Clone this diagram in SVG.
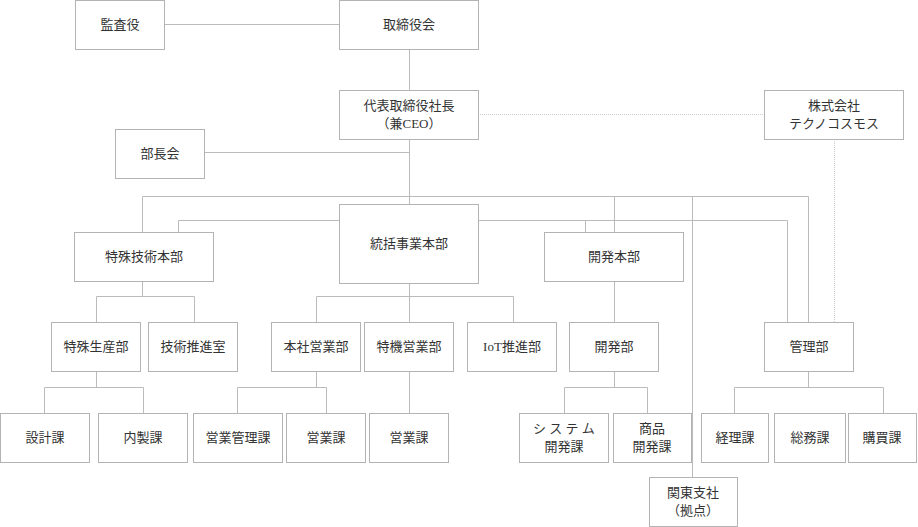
<svg xmlns="http://www.w3.org/2000/svg" width="918" height="527" viewBox="0 0 918 527">
<style>
rect{fill:#fff;stroke:#b3b3b3;stroke-width:1}
text{font-family:"Liberation Serif","Noto Sans CJK JP",serif;font-size:13px;fill:#333;text-anchor:middle}
.c path{fill:none;stroke:#bbb;stroke-width:1}
.c .d{stroke:#ccc;stroke-dasharray:1 1}
</style>
<rect width="918" height="527" style="stroke:none"/>
<g class="c">
<path d="M164.5 24.5H339.5M409.5 49V90M409.5 139V204M204 152.5H409.5"/>
<path d="M142.5 232V196.5H808.5V322M178.5 232V220.5H339M478 220.5H787.5V322M614.5 196.5V232M585.5 220.5V232M692.5 196.5V477"/>
<path class="d" d="M478 114.5H764M834.5 139V322"/>
<path d="M142.5 281V296.5M96.5 322V296.5H194.5V322M96.5 371V387.5M44.5 413V387.5H143.5V413"/>
<path d="M409.5 283V322M316.5 322V296.5H513.5V322M316.5 371V387.5M237.5 413V387.5H326.5V413M409.5 371V413"/>
<path d="M614.5 281V322M614.5 371V387.5M564.5 413V387.5H647.5V413"/>
<path d="M808.5 371V387.5M734.5 413V387.5H883.5V413"/>
</g>
<g id="kansa"><rect x="75.5" y="0.5" width="89" height="49"/><text x="120" y="29">監査役</text></g>
<g id="torishimariyaku"><rect x="339.5" y="0.5" width="139" height="49"/><text x="409" y="29">取締役会</text></g>
<g id="shacho"><rect x="339.5" y="90.5" width="139" height="49"/><text x="409" y="110">代表取締役社長</text><text x="409" y="128">（兼CEO）</text></g>
<g id="technocosmos"><rect x="764.5" y="90.5" width="139" height="49"/><text x="834" y="110">株式会社</text><text x="834" y="128">テクノコスモス</text></g>
<g id="buchokai"><rect x="115.5" y="129.5" width="89" height="49"/><text x="160" y="158">部長会</text></g>
<g id="tokushugijutsu"><rect x="74.5" y="232.5" width="139" height="49"/><text x="144" y="261">特殊技術本部</text></g>
<g id="tokatsu"><rect x="339.5" y="204.5" width="139" height="79"/><text x="409" y="248">統括事業本部</text></g>
<g id="kaihatsuhonbu"><rect x="544.5" y="232.5" width="139" height="49"/><text x="614" y="261">開発本部</text></g>
<g id="tokushuseisan"><rect x="51.5" y="322.5" width="89" height="49"/><text x="96" y="351">特殊生産部</text></g>
<g id="gijutsusuishin"><rect x="148.5" y="322.5" width="89" height="49"/><text x="193" y="351">技術推進室</text></g>
<g id="honsha"><rect x="271.5" y="322.5" width="89" height="49"/><text x="316" y="351">本社営業部</text></g>
<g id="tokki"><rect x="364.5" y="322.5" width="89" height="49"/><text x="409" y="351">特機営業部</text></g>
<g id="iot"><rect x="467.5" y="322.5" width="89" height="49"/><text x="512" y="351">IoT推進部</text></g>
<g id="kaihatsubu"><rect x="569.5" y="322.5" width="89" height="49"/><text x="614" y="351">開発部</text></g>
<g id="kanribu"><rect x="764.5" y="322.5" width="89" height="49"/><text x="809" y="351">管理部</text></g>
<g id="sekkei"><rect x="0.5" y="413.5" width="89" height="49"/><text x="45" y="442">設計課</text></g>
<g id="naisei"><rect x="98.5" y="413.5" width="89" height="49"/><text x="143" y="442">内製課</text></g>
<g id="eigyokanri"><rect x="193.5" y="413.5" width="89" height="49"/><text x="238" y="442">営業管理課</text></g>
<g id="eigyo1"><rect x="286.5" y="413.5" width="79" height="49"/><text x="326" y="442">営業課</text></g>
<g id="eigyo2"><rect x="369.5" y="413.5" width="79" height="49"/><text x="409" y="442">営業課</text></g>
<g id="system"><rect x="519.5" y="413.5" width="89" height="49"/><text x="564" y="433">シ ス テ ム</text><text x="564" y="451">開発課</text></g>
<g id="shohin"><rect x="613.5" y="413.5" width="78" height="49"/><text x="652" y="433">商品</text><text x="652" y="451">開発課</text></g>
<g id="keiri"><rect x="701.5" y="413.5" width="67" height="49"/><text x="735" y="442">経理課</text></g>
<g id="somu"><rect x="774.5" y="413.5" width="71" height="49"/><text x="810" y="442">総務課</text></g>
<g id="kobai"><rect x="848.5" y="413.5" width="68" height="49"/><text x="882" y="442">購買課</text></g>
<g id="kanto"><rect x="649.5" y="477.5" width="88" height="49"/><text x="693" y="497">関東支社</text><text x="693" y="515">（拠点）</text></g>
</svg>
